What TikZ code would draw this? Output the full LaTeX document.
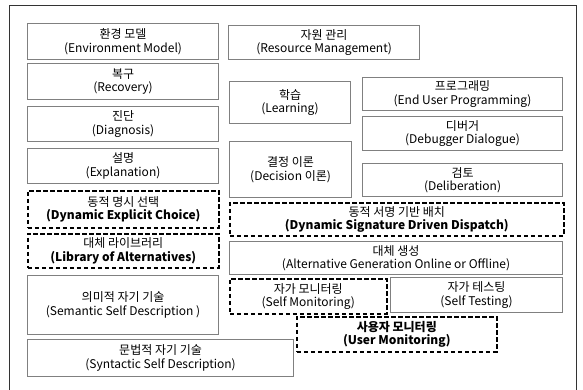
\documentclass[tikz,border=0pt]{standalone}
\usepackage{fontspec}
\setmainfont{Noto Sans CJK KR}
\begin{document}
\begin{tikzpicture}[x=1pt,y=-1pt,
  every node/.style={font=\fontsize{12}{13.5}\selectfont, align=center, inner sep=0pt},
  plainbox/.style={draw=black!50, line width=1.1pt, anchor=north west},
  dashbox/.style={draw=black, line width=1.6pt, dash pattern=on 4.5pt off 2.5pt, anchor=north west},
  frame/.style={draw=black!80, line width=0.9pt}]
\useasboundingbox (0,0) rectangle (583,390);
% outer frame, open at the bottom
\draw[frame] (9,392) -- (9,5) -- (576,5) -- (576,392);
% left column
\node[plainbox, minimum width=191pt, minimum height=36pt] (env) at (27,23) {환경 모델\\(Environment Model)};
\node[plainbox, minimum width=191pt, minimum height=36pt] (rec) at (27,63) {복구\\(Recovery)};
\node[plainbox, minimum width=191pt, minimum height=35pt] (dia) at (27,106) {진단\\(Diagnosis)};
\node[plainbox, minimum width=191pt, minimum height=35pt] (exp) at (27,148) {설명\\(Explanation)};
\node[dashbox, minimum width=191pt, minimum height=37pt] (dec) at (27,190) {동적 명시 선택\\\bfseries(Dynamic Explicit Choice)};
\node[dashbox, minimum width=191pt, minimum height=34pt] (lib) at (27,233) {대체 라이브러리\\\bfseries(Library of Alternatives)};
\node[plainbox, minimum width=191pt, minimum height=59pt] (sem) at (27,275) {의미적 자기 기술\\(Semantic Self Description )};
\node[plainbox, minimum width=266pt, minimum height=37pt] (syn) at (27,339) {문법적 자기 기술\\(Syntactic Self Description)};
% middle and right columns
\node[plainbox, minimum width=191pt, minimum height=34pt] (res) at (228,25) {자원 관리\\(Resource Management)};
\node[plainbox, minimum width=121pt, minimum height=42pt] (lea) at (229,81) {학습\\(Learning)};
\node[plainbox, minimum width=122pt, minimum height=56pt] (dth) at (229,141) {결정 이론\\(Decision 이론)};
\node[plainbox, minimum width=200pt, minimum height=33pt] (eup) at (362,77) {프로그래밍\\(End User Programming)};
\node[plainbox, minimum width=200pt, minimum height=34pt] (dbg) at (362,116) {디버거\\(Debugger Dialogue)};
\node[plainbox, minimum width=200pt, minimum height=33pt] (del) at (362,163) {검토\\(Deliberation)};
\node[dashbox, minimum width=334pt, minimum height=33pt] (dsd) at (229,202) {동적 서명 기반 배치\\\bfseries(Dynamic Signature Driven Dispatch)};
\node[plainbox, minimum width=333pt, minimum height=33pt] (alt) at (229,241) {대체 생성\\(Alternative Generation Online or Offline)};
\node[dashbox, minimum width=157pt, minimum height=35pt] (smo) at (229,278) {자가 모니터링\\(Self Monitoring)};
\node[plainbox, minimum width=172pt, minimum height=35pt] (ste) at (390,277) {자가 테스팅\\(Self Testing)};
\node[dashbox, minimum width=200pt, minimum height=35pt] (umo) at (296,316) {\bfseries 사용자 모니터링\\\bfseries(User Monitoring)};
\end{tikzpicture}
\end{document}
